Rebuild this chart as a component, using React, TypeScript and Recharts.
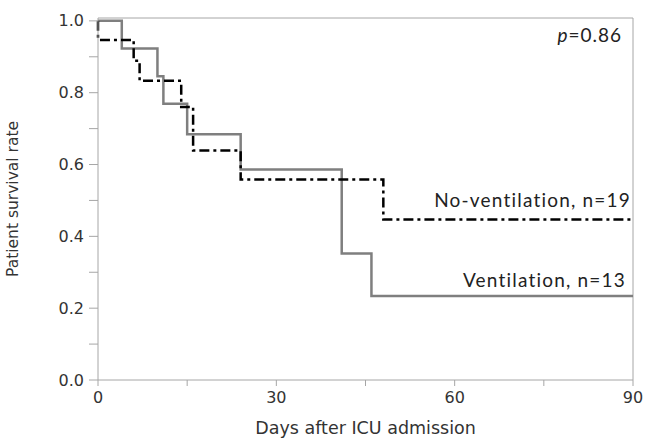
import { LineChart, Line, XAxis, YAxis, ReferenceLine } from 'recharts';

const ventDays = [0, 4, 10, 11, 15, 24, 41, 46, 90];
const ventSurvival = [1.0, 0.923, 0.846, 0.769, 0.684, 0.586, 0.352, 0.234, 0.234];

const noVentDays = [0, 0, 6, 7, 14, 16, 24, 48, 90];
const noVentSurvival = [1.0, 0.947, 0.889, 0.833, 0.76, 0.639, 0.558, 0.447, 0.447];

const xTicks = [0, 15, 30, 45, 60, 75, 90];
const xLabelled = [0, 30, 60, 90];
const yTicks = [0, 0.1, 0.2, 0.3, 0.4, 0.5, 0.6, 0.7, 0.8, 0.9, 1.0];
const yLabelled = [0, 0.2, 0.4, 0.6, 0.8, 1.0];

const ventData = ventDays.map((d, i) => ({ day: d, surv: ventSurvival[i] }));
const noVentData = noVentDays.map((d, i) => ({ day: d, surv: noVentSurvival[i] }));

const axisColor = '#a6a6a6';
const tickFont = 'Tahoma, "DejaVu Sans", sans-serif';
const noteFont = 'Lato, "Open Sans", sans-serif';

const XTick = (props: any) => {
  const { x, y, payload } = props;
  if (!xLabelled.includes(payload.value)) return null;
  return (
    <text x={x} y={y} dy="0.71em" textAnchor="middle" fill="#333" fontSize={16} fontFamily={tickFont}>
      {payload.value}
    </text>
  );
};

const YTick = (props: any) => {
  const { x, y, payload } = props;
  const v = Math.round(payload.value * 10) / 10;
  if (!yLabelled.some((t) => Math.abs(t - v) < 1e-6)) return null;
  return (
    <text x={x} y={y} dy="0.35em" textAnchor="end" fill="#333" fontSize={16} fontFamily={tickFont}>
      {v.toFixed(1)}
    </text>
  );
};

const App = () => {
  return (
    <div style={{ position: 'absolute', left: 0, top: 0, width: 645, height: 441, background: '#fff' }}>
      <LineChart width={645} height={441} margin={{ top: 18, right: 12, bottom: 0, left: 0 }}>
        <XAxis
          type="number"
          dataKey="day"
          domain={[0, 90]}
          ticks={xTicks}
          stroke={axisColor}
          tickSize={6}
          tickMargin={6}
          tick={<XTick />}
          height={61}
          allowDuplicatedCategory={false}
          label={{ value: 'Days after ICU admission', position: 'insideBottom', offset: 7, fill: '#333', fontSize: 17.5, fontFamily: tickFont }}
        />
        <YAxis
          type="number"
          dataKey="surv"
          domain={[0, 1.008]}
          ticks={yTicks}
          stroke={axisColor}
          tickSize={9}
          tickMargin={5}
          tick={<YTick />}
          width={98}
          label={{ value: 'Patient survival rate', angle: -90, position: 'insideLeft', offset: 12, dy: 0, fill: '#333', fontSize: 15.5, fontFamily: tickFont, style: { textAnchor: 'middle' } }}
        />
        <ReferenceLine y={1.008} stroke={axisColor} strokeWidth={1} />
        <ReferenceLine x={90} stroke={axisColor} strokeWidth={1} />
        <Line
          data={ventData}
          dataKey="surv"
          type="stepAfter"
          stroke="#7f7f7f"
          strokeWidth={2.5}
          dot={false}
          isAnimationActive={false}
        />
        <Line
          data={noVentData}
          dataKey="surv"
          type="stepAfter"
          stroke="#000"
          strokeWidth={2.5}
          strokeDasharray="10 4 3 4"
          dot={false}
          isAnimationActive={false}
        />
      </LineChart>
      <div style={{ position: 'absolute', right: 23, top: 23, fontFamily: noteFont, fontSize: 19, letterSpacing: 1, color: '#222' }}>
        <i>p</i>=0.86
      </div>
      <div style={{ position: 'absolute', right: 14, top: 188, fontFamily: noteFont, fontSize: 19, letterSpacing: 1.2, color: '#222' }}>
        No-ventilation, n=19
      </div>
      <div style={{ position: 'absolute', right: 19, top: 268, fontFamily: noteFont, fontSize: 19, letterSpacing: 1.2, color: '#222' }}>
        Ventilation, n=13
      </div>
    </div>
  );
};

export default App;
